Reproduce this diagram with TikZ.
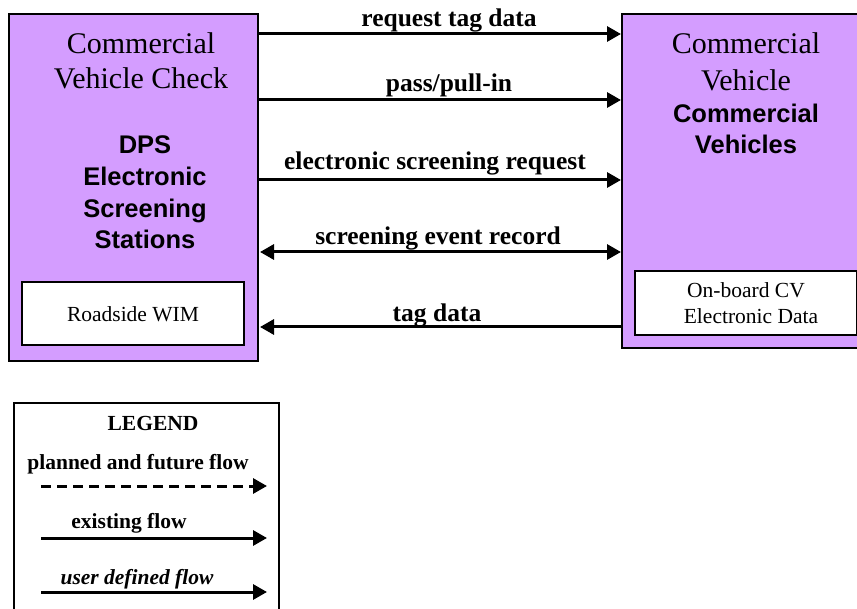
\documentclass[tikz,border=0pt]{standalone}
\usepackage{fontspec}
\setmainfont{Liberation Serif}
\setsansfont{Liberation Sans}
\usetikzlibrary{arrows.meta}
\definecolor{cvpurple}{RGB}{212,157,255}
\tikzset{
  x=1pt, y=-1pt,
  outerbox/.style={draw=black, line width=2pt, fill=cvpurple, minimum width=249pt, inner sep=0pt},
  innerbox/.style={draw=black, line width=1.6pt, fill=white, minimum width=222pt, inner sep=0pt},
  titletxt/.style={font=\fontsize{30}{36}\selectfont, anchor=base, inner sep=0pt},
  subtxt/.style={font=\sffamily\bfseries\fontsize{25.5}{31}\selectfont, anchor=base, inner sep=0pt},
  smalltxt/.style={font=\fontsize{21.5}{26}\selectfont, anchor=base, inner sep=0pt},
  flowlabel/.style={font=\bfseries\fontsize{25.5}{30}\selectfont, anchor=base, inner sep=0pt},
  legtxt/.style={font=\bfseries\fontsize{21.5}{25}\selectfont, anchor=base, inner sep=0pt},
  tip/.tip={Triangle[length=14pt,width=15pt]},
  flow/.style={line width=3pt, -tip},
  dflow/.style={line width=3pt, tip-tip},
  legflow/.style={line width=3pt, -tip}
}
\begin{document}
\begin{tikzpicture}
\useasboundingbox (0,0) rectangle (857,609);
\clip (0,0) rectangle (857,609);
% left box
\node[outerbox, minimum height=347pt] (lbox) at (133.5,187.5) {};
\node[innerbox, minimum height=63pt] (lwim) at (133,313.5) {};
\node[smalltxt] (lwimt) at (133,322) {Roadside WIM};
\node[titletxt] (lt1) at (141,54) {Commercial};
\node[titletxt] (lt2) at (141,89) {Vehicle Check};
\node[subtxt] (ls1) at (145,154) {DPS};
\node[subtxt] (ls2) at (145,186) {Electronic};
\node[subtxt] (ls3) at (145,217.5) {Screening};
\node[subtxt] (ls4) at (145,249) {Stations};
% right box
\node[outerbox, minimum height=334pt] (rbox) at (746.5,181) {};
\node[innerbox, minimum height=64pt] (rcv) at (746,303) {};
\node[smalltxt] (rcv1) at (746,298) {On-board CV};
\node[smalltxt] (rcv2) at (751,324) {Electronic Data};
\node[titletxt] (rt1) at (746,54) {Commercial};
\node[titletxt] (rt2) at (746,91) {Vehicle};
\node[subtxt] (rs1) at (746,123) {Commercial};
\node[subtxt] (rs2) at (746,154) {Vehicles};
% flows
\draw[flow] (lbox.east |- 0,34) -- (rbox.west |- 0,34);
\draw[flow] (lbox.east |- 0,100) -- (rbox.west |- 0,100);
\draw[flow] (lbox.east |- 0,180) -- (rbox.west |- 0,180);
\draw[dflow] ([xshift=1pt]lbox.east |- 0,252) -- (rbox.west |- 0,252);
\draw[flow] (rbox.west |- 0,327) -- ([xshift=1pt]lbox.east |- 0,327);
\node[flowlabel] (f1) at (449,26.5) {request tag data};
\node[flowlabel] (f2) at (449,92) {pass/pull-in};
\node[flowlabel] (f3) at (435,169.5) {electronic screening request};
\node[flowlabel] (f4) at (438,244.5) {screening event record};
\node[flowlabel] (f5) at (437,321.5) {tag data};
% legend
\draw[line width=1.6pt] (14,620) -- (14,403) -- (279,403) -- (279,620);
\node[legtxt] (lg) at (153,431) {LEGEND};
\node[legtxt] (lg1) at (138,469) {planned and future flow};
\node[legtxt] (lg2) at (129,528) {existing flow};
\node[legtxt, font=\bfseries\itshape\fontsize{21.5}{25}\selectfont] (lg3) at (137,584) {user defined flow};
\coordinate (la1) at (41,486);
\coordinate (lb1) at (267,486);
\coordinate (la2) at (41,538);
\coordinate (lb2) at (267,538);
\coordinate (la3) at (41,592);
\coordinate (lb3) at (267,592);
\draw[legflow, dash pattern=on 10pt off 6pt] (la1) -- (lb1);
\draw[legflow] (la2) -- (lb2);
\draw[legflow] (la3) -- (lb3);
\end{tikzpicture}
\end{document}
